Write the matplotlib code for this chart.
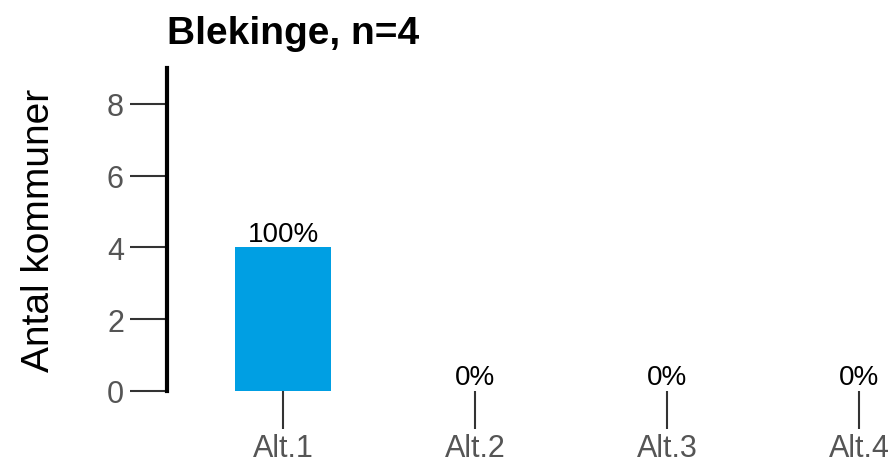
import matplotlib
matplotlib.use('Agg')
import matplotlib.pyplot as plt

categories = ['Alt.1', 'Alt.2', 'Alt.3', 'Alt.4']
counts = [4, 0, 0, 0]
percents = [100, 0, 0, 0]
title = 'Blekinge, n=4'
ylabel = 'Antal kommuner'

plt.rcParams['font.family'] = ['Liberation Sans', 'DejaVu Sans']

W, H = 896, 464
fig = plt.figure(figsize=(W / 100, H / 100), dpi=100)
ax_left, ax_right = 167 / W, 892 / W
ax_bottom, ax_top = (H - 392) / H, (H - 69) / H
ax = fig.add_axes([ax_left, ax_bottom, ax_right - ax_left, ax_top - ax_bottom])

x = list(range(len(categories)))
ax.bar(x, counts, width=0.5, color='#009FE3')
for xi, c, p in zip(x, counts, percents):
    ax.text(xi, c + 0.02, f'{p}%', ha='center', va='bottom', fontsize=20, color='black')

# 0 at px 283, 192 px per category
x0 = -(283 - 167) / 192
x1 = (892 - 283) / 192
ax.set_xlim(x0, x1)
ax.set_ylim(0, 9)
ax.set_yticks([0, 2, 4, 6, 8])
ax.set_xticks(x)
ax.set_xticklabels(categories)

for s in ['top', 'right', 'bottom']:
    ax.spines[s].set_visible(False)
ax.spines['left'].set_linewidth(3)
ax.spines['left'].set_color('black')

ax.tick_params(axis='y', length=27, width=1.5, color='#333333', labelcolor='#555555',
               labelsize=22, pad=4)
ax.tick_params(axis='x', length=27, width=1.5, color='#333333', labelcolor='#555555',
               labelsize=22, pad=3)

ax.set_ylabel(ylabel, fontsize=28, color='black', labelpad=36)
ax.set_title(title, fontsize=28, fontweight='bold', loc='left', pad=18)

fig.savefig('out.png', dpi=100)
